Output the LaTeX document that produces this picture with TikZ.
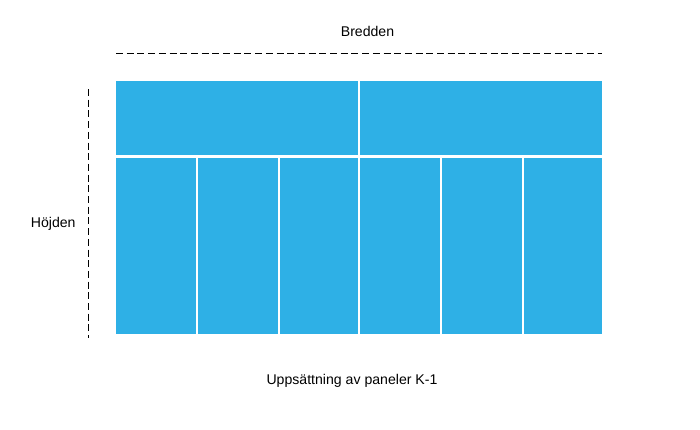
\documentclass[tikz,border=0pt]{standalone}
\usepackage{fontspec}
\setmainfont{Liberation Sans}
\definecolor{panelblue}{RGB}{46,176,230}
\begin{document}
\begin{tikzpicture}[x=1pt,y=-1pt,
  panel/.style={fill=panelblue,draw=none},
  dimline/.style={line width=1.9pt,dash pattern=on 7pt off 3.7pt},
  lbl/.style={font=\fontsize{14.1}{17}\selectfont,inner sep=0pt,anchor=base}]
\useasboundingbox (0,0) rectangle (700,429);
% top row
\fill[panel] (116,81) rectangle (358,155);
\fill[panel] (360,81) rectangle (602,155);
% bottom row
\fill[panel] (116,157.5) rectangle (196,334);
\fill[panel] (198.3,157.5) rectangle (278,334);
\fill[panel] (280.3,157.5) rectangle (358,334);
\fill[panel] (360.3,157.5) rectangle (440,334);
\fill[panel] (442.3,157.5) rectangle (522,334);
\fill[panel] (524.3,157.5) rectangle (602,334);
% dimension lines
\coordinate (wa) at (116,53.5);
\coordinate (wb) at (602,53.5);
\coordinate (ha) at (88.5,89);
\coordinate (hb) at (88.5,338);
\draw[dimline] (wa) -- (wb);
\draw[dimline] (ha) -- (hb);
% labels
\node[lbl] (bredden) at (367.5,36.7) {Bredden};
\node[lbl] (hojden) at (53.2,227.3) {Höjden};
\node[lbl] (caption) at (352,384) {Uppsättning av paneler K-1};
\end{tikzpicture}
\end{document}
